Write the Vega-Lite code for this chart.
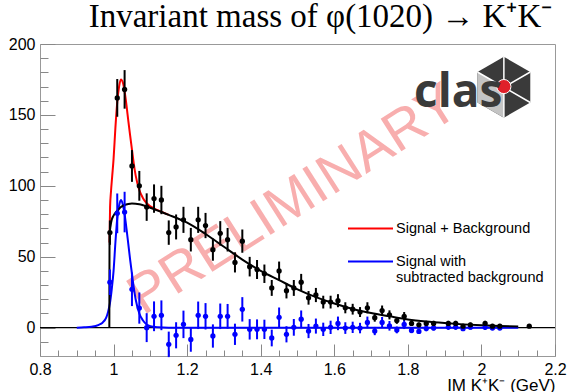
{
  "$schema": "https://vega.github.io/schema/vega-lite/v6.json",
  "width": 515,
  "height": 312,
  "autosize": {"type": "none"},
  "padding": {"left": 40, "top": 44, "right": 13, "bottom": 36},
  "background": "white",
  "title": {
    "text": "Invariant mass of φ(1020) → K⁺K⁻",
    "font": "Liberation Serif",
    "fontSize": 33,
    "fontWeight": "normal",
    "color": "black",
    "anchor": "middle",
    "frame": "group",
    "dx": 23,
    "offset": 2
  },
  "datasets": {
    "black": [
      {"x": 0.99, "n": 67, "err": 8.6}, {"x": 1.01, "n": 162, "err": 13.3}, {"x": 1.03, "n": 168, "err": 13.6},
      {"x": 1.05, "n": 114, "err": 11.2}, {"x": 1.07, "n": 100, "err": 10.5}, {"x": 1.09, "n": 85, "err": 9.7},
      {"x": 1.11, "n": 91, "err": 10}, {"x": 1.13, "n": 90, "err": 10}, {"x": 1.15, "n": 67, "err": 8.6},
      {"x": 1.17, "n": 71, "err": 8.8}, {"x": 1.19, "n": 76, "err": 9.2}, {"x": 1.21, "n": 62, "err": 8.3},
      {"x": 1.23, "n": 76, "err": 9.2}, {"x": 1.25, "n": 72, "err": 8.9}, {"x": 1.27, "n": 55, "err": 7.8},
      {"x": 1.29, "n": 66.5, "err": 8.6}, {"x": 1.31, "n": 62, "err": 8.3}, {"x": 1.33, "n": 46, "err": 7.1},
      {"x": 1.35, "n": 61, "err": 8.2}, {"x": 1.37, "n": 43, "err": 6.9}, {"x": 1.39, "n": 41, "err": 6.7},
      {"x": 1.41, "n": 38, "err": 6.5}, {"x": 1.43, "n": 28, "err": 5.6}, {"x": 1.45, "n": 40, "err": 6.6},
      {"x": 1.47, "n": 26, "err": 5.4}, {"x": 1.49, "n": 28, "err": 5.6}, {"x": 1.51, "n": 32, "err": 5.9},
      {"x": 1.53, "n": 21, "err": 4.8}, {"x": 1.55, "n": 23, "err": 5.0}, {"x": 1.57, "n": 18, "err": 4.5},
      {"x": 1.59, "n": 18, "err": 4.5}, {"x": 1.61, "n": 19, "err": 4.6}, {"x": 1.63, "n": 14, "err": 3.9},
      {"x": 1.65, "n": 13, "err": 3.8}, {"x": 1.67, "n": 11, "err": 3.5}, {"x": 1.69, "n": 14, "err": 3.9},
      {"x": 1.71, "n": 7, "err": 2.8}, {"x": 1.73, "n": 12, "err": 3.6}, {"x": 1.75, "n": 9, "err": 3.2},
      {"x": 1.77, "n": 5, "err": 2.3}, {"x": 1.79, "n": 8, "err": 3.0}, {"x": 1.81, "n": 3, "err": 1.8},
      {"x": 1.83, "n": 2, "err": 1.5}, {"x": 1.85, "n": 3, "err": 1.8}, {"x": 1.87, "n": 3, "err": 1.8},
      {"x": 1.91, "n": 3, "err": 1.8}, {"x": 1.93, "n": 3, "err": 1.8}, {"x": 1.95, "n": 1, "err": 1.0},
      {"x": 1.97, "n": 2, "err": 1.5}, {"x": 2.01, "n": 3, "err": 1.8}, {"x": 2.03, "n": 1, "err": 1.0},
      {"x": 2.05, "n": 1, "err": 1.0}, {"x": 2.13, "n": 1, "err": 1.0}
    ],
    "blue": [
      {"x": 0.99, "v": 32, "err": 9}, {"x": 1.01, "v": 80.6, "err": 14}, {"x": 1.03, "v": 81.5, "err": 14.3},
      {"x": 1.05, "v": 27, "err": 11.8}, {"x": 1.07, "v": 13.8, "err": 11}, {"x": 1.09, "v": 0, "err": 10.2},
      {"x": 1.11, "v": 8, "err": 10.5}, {"x": 1.13, "v": 8.7, "err": 10.5}, {"x": 1.15, "v": -11.8, "err": 9},
      {"x": 1.17, "v": -5.4, "err": 9.2}, {"x": 1.19, "v": 2.3, "err": 9.7}, {"x": 1.21, "v": -8.3, "err": 8.7},
      {"x": 1.23, "v": 8.7, "err": 9.7}, {"x": 1.25, "v": 8, "err": 9.3}, {"x": 1.27, "v": -5.9, "err": 8.2},
      {"x": 1.29, "v": 8, "err": 9}, {"x": 1.31, "v": 8, "err": 8.7}, {"x": 1.33, "v": -4.7, "err": 7.5},
      {"x": 1.35, "v": 12.9, "err": 8.6}, {"x": 1.37, "v": -1.2, "err": 7.2}, {"x": 1.39, "v": -1.2, "err": 7},
      {"x": 1.41, "v": -1.2, "err": 6.8}, {"x": 1.43, "v": -7.3, "err": 5.9}, {"x": 1.45, "v": 7.3, "err": 6.9},
      {"x": 1.47, "v": -4.7, "err": 5.7}, {"x": 1.49, "v": 0.2, "err": 5.9}, {"x": 1.51, "v": 5.9, "err": 6.2},
      {"x": 1.53, "v": -2.4, "err": 5}, {"x": 1.55, "v": 1.1, "err": 5.3}, {"x": 1.57, "v": -1.2, "err": 4.7},
      {"x": 1.59, "v": 0.2, "err": 4.7}, {"x": 1.61, "v": 3, "err": 4.8}, {"x": 1.63, "v": -0.3, "err": 4.1},
      {"x": 1.65, "v": 0.2, "err": 4}, {"x": 1.67, "v": -0.3, "err": 3.7}, {"x": 1.69, "v": 3.7, "err": 4.1},
      {"x": 1.71, "v": -2.4, "err": 2.9}, {"x": 1.73, "v": 3.7, "err": 3.8}, {"x": 1.75, "v": 1.3, "err": 3.4},
      {"x": 1.77, "v": -1.6, "err": 2.4}, {"x": 1.79, "v": 2.2, "err": 3.2}, {"x": 1.81, "v": -2, "err": 1.9},
      {"x": 1.83, "v": -2.7, "err": 1.6}, {"x": 1.85, "v": -0.6, "err": 1.9}, {"x": 1.87, "v": -0.2, "err": 1.9},
      {"x": 1.91, "v": 0.4, "err": 1.9}, {"x": 1.93, "v": 0.4, "err": 1.9}, {"x": 1.95, "v": -0.7, "err": 1.1},
      {"x": 1.97, "v": 0.3, "err": 1.6}, {"x": 2.01, "v": 0.3, "err": 1.9}, {"x": 2.03, "v": -0.3, "err": 1.1},
      {"x": 2.05, "v": -0.3, "err": 1.1}
    ],
    "fits": [
      {"series": "Signal with subtracted background", "x": 0.90, "y": 0},
      {"series": "Signal with subtracted background", "x": 0.92, "y": 0.2},
      {"series": "Signal with subtracted background", "x": 0.94, "y": 0.6},
      {"series": "Signal with subtracted background", "x": 0.96, "y": 2},
      {"series": "Signal with subtracted background", "x": 0.97, "y": 3.5},
      {"series": "Signal with subtracted background", "x": 0.98, "y": 7},
      {"series": "Signal with subtracted background", "x": 0.985, "y": 11},
      {"series": "Signal with subtracted background", "x": 0.99, "y": 17},
      {"series": "Signal with subtracted background", "x": 0.995, "y": 27},
      {"series": "Signal with subtracted background", "x": 1.0, "y": 40},
      {"series": "Signal with subtracted background", "x": 1.005, "y": 60},
      {"series": "Signal with subtracted background", "x": 1.01, "y": 77},
      {"series": "Signal with subtracted background", "x": 1.015, "y": 86},
      {"series": "Signal with subtracted background", "x": 1.02, "y": 90},
      {"series": "Signal with subtracted background", "x": 1.025, "y": 87},
      {"series": "Signal with subtracted background", "x": 1.03, "y": 80},
      {"series": "Signal with subtracted background", "x": 1.035, "y": 70},
      {"series": "Signal with subtracted background", "x": 1.04, "y": 59},
      {"series": "Signal with subtracted background", "x": 1.045, "y": 48},
      {"series": "Signal with subtracted background", "x": 1.05, "y": 38},
      {"series": "Signal with subtracted background", "x": 1.055, "y": 28},
      {"series": "Signal with subtracted background", "x": 1.06, "y": 20},
      {"series": "Signal with subtracted background", "x": 1.07, "y": 10},
      {"series": "Signal with subtracted background", "x": 1.08, "y": 5},
      {"series": "Signal with subtracted background", "x": 1.09, "y": 2.2},
      {"series": "Signal with subtracted background", "x": 1.10, "y": 1},
      {"series": "Signal with subtracted background", "x": 1.12, "y": 0.3},
      {"series": "Signal with subtracted background", "x": 1.15, "y": 0},
      {"series": "Signal with subtracted background", "x": 2.10, "y": 0},
      {"series": "Signal + Background", "x": 0.989, "y": 60},
      {"series": "Signal + Background", "x": 0.9905, "y": 85},
      {"series": "Signal + Background", "x": 0.993, "y": 96},
      {"series": "Signal + Background", "x": 0.996, "y": 106},
      {"series": "Signal + Background", "x": 1.0, "y": 119},
      {"series": "Signal + Background", "x": 1.005, "y": 141},
      {"series": "Signal + Background", "x": 1.01, "y": 159},
      {"series": "Signal + Background", "x": 1.015, "y": 170},
      {"series": "Signal + Background", "x": 1.02, "y": 175},
      {"series": "Signal + Background", "x": 1.025, "y": 173},
      {"series": "Signal + Background", "x": 1.03, "y": 166.5},
      {"series": "Signal + Background", "x": 1.035, "y": 157},
      {"series": "Signal + Background", "x": 1.04, "y": 146},
      {"series": "Signal + Background", "x": 1.045, "y": 135.5},
      {"series": "Signal + Background", "x": 1.05, "y": 125.5},
      {"series": "Signal + Background", "x": 1.055, "y": 115.5},
      {"series": "Signal + Background", "x": 1.06, "y": 107.4},
      {"series": "Signal + Background", "x": 1.07, "y": 97},
      {"series": "Signal + Background", "x": 1.08, "y": 91.3},
      {"series": "Signal + Background", "x": 1.09, "y": 87.7},
      {"series": "Signal + Background", "x": 1.10, "y": 85.5},
      {"series": "Signal + Background", "x": 1.12, "y": 82.8},
      {"series": "Signal + Background", "x": 1.15, "y": 79.5}
    ],
    "bg": [
      {"x": 0.9885, "y": 0}, {"x": 0.989, "y": 65}, {"x": 0.992, "y": 72}, {"x": 0.995, "y": 76},
      {"x": 1.0, "y": 79}, {"x": 1.005, "y": 81}, {"x": 1.01, "y": 82.5}, {"x": 1.015, "y": 83.8},
      {"x": 1.02, "y": 85}, {"x": 1.03, "y": 86.5}, {"x": 1.04, "y": 87.2}, {"x": 1.05, "y": 87.5},
      {"x": 1.06, "y": 87.4}, {"x": 1.07, "y": 87}, {"x": 1.08, "y": 86.3}, {"x": 1.09, "y": 85.5},
      {"x": 1.10, "y": 84.5}, {"x": 1.12, "y": 82.5}, {"x": 1.15, "y": 79.5}, {"x": 1.2, "y": 74},
      {"x": 1.25, "y": 66}, {"x": 1.3, "y": 57}, {"x": 1.35, "y": 48}, {"x": 1.4, "y": 40},
      {"x": 1.45, "y": 33.5}, {"x": 1.5, "y": 27}, {"x": 1.55, "y": 21.5}, {"x": 1.6, "y": 17},
      {"x": 1.65, "y": 13.2}, {"x": 1.7, "y": 10.3}, {"x": 1.75, "y": 8}, {"x": 1.8, "y": 5.8},
      {"x": 1.85, "y": 4.3}, {"x": 1.9, "y": 3.2}, {"x": 1.95, "y": 2.3}, {"x": 2.0, "y": 1.6},
      {"x": 2.05, "y": 1.1}, {"x": 2.1, "y": 0.8}
    ]
  },
  "resolve": {"axis": {"x": "independent", "y": "independent"}},
  "layer": [
    {
      "data": {"values": [{}]},
      "mark": {"type": "text", "text": "PRELIMINARY", "angle": -32.5, "fontSize": 56, "font": "Liberation Sans", "color": "#f79a9a", "opacity": 0.8, "align": "center", "baseline": "middle"},
      "encoding": {
        "x": {"datum": 1.489, "type": "quantitative", "scale": {"domain": [0.8, 2.2], "nice": false, "zero": false}, "axis": null},
        "y": {"datum": 90, "type": "quantitative", "scale": {"domain": [-20, 200], "nice": false, "zero": false}, "axis": null}
      }
    },
    {
      "data": {"values": [{}]},
      "mark": {"type": "rule", "color": "black", "strokeWidth": 1.2},
      "encoding": {
        "y": {"datum": 0, "type": "quantitative", "scale": {"domain": [-20, 200], "nice": false, "zero": false}, "axis": null}
      }
    },
    {
      "data": {"name": "fits"},
      "mark": {"type": "line", "strokeWidth": 2, "interpolate": "monotone"},
      "encoding": {
        "x": {"field": "x", "type": "quantitative", "scale": {"domain": [0.8, 2.2], "nice": false, "zero": false}, "axis": null},
        "y": {"field": "y", "type": "quantitative", "scale": {"domain": [-20, 200], "nice": false, "zero": false}, "axis": null},
        "color": {
          "field": "series", "type": "nominal",
          "scale": {"domain": ["Signal + Background", "Signal with subtracted background"], "range": ["#ff0000", "#0000ff"]},
          "legend": {
            "orient": "none", "legendX": 307, "legendY": 161, "title": null, "padding": 0,
            "symbolType": "stroke", "symbolSize": 2025, "symbolStrokeWidth": 2,
            "labelFont": "Liberation Sans", "labelFontSize": 14.5, "labelColor": "black", "labelOffset": 2, "labelLimit": 0,
            "rowPadding": 3,
            "labelExpr": "datum.label == 'Signal with subtracted background' ? ['Signal with', 'subtracted background'] : datum.label"
          }
        }
      }
    },
    {
      "data": {"name": "bg"},
      "mark": {"type": "line", "strokeWidth": 2, "color": "black", "interpolate": "monotone"},
      "encoding": {
        "x": {"field": "x", "type": "quantitative", "scale": {"domain": [0.8, 2.2], "nice": false, "zero": false}, "axis": null},
        "y": {"field": "y", "type": "quantitative", "scale": {"domain": [-20, 200], "nice": false, "zero": false}, "axis": null}
      }
    },
    {
      "data": {"name": "blue"},
      "mark": {"type": "errorbar", "color": "#0000ff", "thickness": 2},
      "encoding": {
        "x": {"field": "x", "type": "quantitative", "scale": {"domain": [0.8, 2.2], "nice": false, "zero": false}, "axis": null},
        "y": {"field": "v", "type": "quantitative", "scale": {"domain": [-20, 200], "nice": false, "zero": false}, "axis": null},
        "yError": {"field": "err"}
      }
    },
    {
      "data": {"name": "blue"},
      "mark": {"type": "point", "filled": true, "shape": "circle", "size": 28, "color": "#0000ff", "opacity": 1},
      "encoding": {
        "x": {"field": "x", "type": "quantitative", "scale": {"domain": [0.8, 2.2], "nice": false, "zero": false},
          "axis": {"orient": "bottom", "values": [0.85, 0.9, 0.95, 1.05, 1.1, 1.15, 1.25, 1.3, 1.35, 1.45, 1.5, 1.55, 1.65, 1.7, 1.75, 1.85, 1.9, 1.95, 2.05, 2.1, 2.15],
            "labels": false, "domain": false, "grid": false, "tickSize": -6, "tickColor": "#888", "tickWidth": 1, "title": null}},
        "y": {"field": "v", "type": "quantitative", "scale": {"domain": [-20, 200], "nice": false, "zero": false},
          "axis": {"orient": "left", "values": [-10, 10, 20, 30, 40, 60, 70, 80, 90, 110, 120, 130, 140, 160, 170, 180, 190],
            "labels": false, "domain": false, "grid": false, "tickSize": -8, "tickColor": "#888", "tickWidth": 1, "title": null}}
      }
    },
    {
      "data": {"name": "black"},
      "mark": {"type": "errorbar", "color": "black", "thickness": 2},
      "encoding": {
        "x": {"field": "x", "type": "quantitative", "scale": {"domain": [0.8, 2.2], "nice": false, "zero": false}, "axis": null},
        "y": {"field": "n", "type": "quantitative", "scale": {"domain": [-20, 200], "nice": false, "zero": false}, "axis": null},
        "yError": {"field": "err"}
      }
    },
    {
      "data": {"name": "black"},
      "mark": {"type": "point", "filled": true, "shape": "circle", "size": 28, "color": "black", "opacity": 1},
      "encoding": {
        "x": {"field": "x", "type": "quantitative", "scale": {"domain": [0.8, 2.2], "nice": false, "zero": false},
          "axis": {"orient": "bottom", "values": [0.8, 1.0, 1.2, 1.4, 1.6, 1.8, 2.0, 2.2], "format": "~g",
            "domain": false, "grid": false, "tickSize": -12, "tickColor": "#888", "tickWidth": 1,
            "labelFont": "Liberation Sans", "labelFontSize": 16, "labelColor": "black", "labelPadding": 17,
            "labelFlush": false, "labelOverlap": false,
            "title": "IM K⁺K⁻ (GeV)", "titleFont": "Liberation Sans", "titleFontSize": 17, "titleFontWeight": "normal",
            "titleColor": "black", "titleAnchor": "end", "titleAlign": "right", "titleBaseline": "alphabetic",
            "titleX": 515, "titleY": 34}},
        "y": {"field": "n", "type": "quantitative", "scale": {"domain": [-20, 200], "nice": false, "zero": false},
          "axis": {"orient": "left", "values": [0, 50, 100, 150, 200], "domain": false, "grid": false, "tickSize": -15, "tickColor": "#888", "tickWidth": 1,
            "labelFont": "Liberation Sans", "labelFontSize": 16, "labelColor": "black", "labelPadding": 20,
            "labelFlush": false, "labelOverlap": false, "title": null}}
      }
    },
    {
      "data": {"values": [{}]},
      "mark": {"type": "point", "filled": true, "shape": "M0,-1 L0.866,-0.5 L0.866,0.5 L0,1 L-0.866,0.5 L-0.866,-0.5 Z", "size": 3721, "color": "#3a3a3a", "opacity": 1},
      "encoding": {
        "x": {"datum": 2.061, "type": "quantitative", "scale": {"domain": [0.8, 2.2], "nice": false, "zero": false}, "axis": null},
        "y": {"datum": 169.5, "type": "quantitative", "scale": {"domain": [-20, 200], "nice": false, "zero": false}, "axis": null}
      }
    },
    {
      "data": {"values": [{}]},
      "mark": {"type": "point", "filled": true, "shape": "M0,0 L0,1 L-0.866,0.5 L-0.866,-0.5 Z", "size": 3721, "color": "#c4c4c4", "opacity": 1},
      "encoding": {
        "x": {"datum": 2.061, "type": "quantitative", "scale": {"domain": [0.8, 2.2], "nice": false, "zero": false}, "axis": null},
        "y": {"datum": 169.5, "type": "quantitative", "scale": {"domain": [-20, 200], "nice": false, "zero": false}, "axis": null}
      }
    },
    {
      "data": {"values": [{}]},
      "mark": {"type": "point", "filled": false, "shape": "M0,0 L0,-1 M0,0 L0.866,-0.5 M0,0 L0.866,0.5 M0,0 L0,1 M0,0 L-0.866,-0.5", "size": 3721, "color": "white", "strokeWidth": 1.5, "opacity": 1},
      "encoding": {
        "x": {"datum": 2.061, "type": "quantitative", "scale": {"domain": [0.8, 2.2], "nice": false, "zero": false}, "axis": null},
        "y": {"datum": 169.5, "type": "quantitative", "scale": {"domain": [-20, 200], "nice": false, "zero": false}, "axis": null}
      }
    },
    {
      "data": {"values": [{}]},
      "mark": {"type": "point", "filled": true, "shape": "circle", "size": 200, "color": "#e0202a", "stroke": "white", "strokeWidth": 1, "opacity": 1},
      "encoding": {
        "x": {"datum": 2.061, "type": "quantitative", "scale": {"domain": [0.8, 2.2], "nice": false, "zero": false}, "axis": null},
        "y": {"datum": 170, "type": "quantitative", "scale": {"domain": [-20, 200], "nice": false, "zero": false}, "axis": null}
      }
    },
    {
      "data": {"values": [{}]},
      "mark": {"type": "text", "text": "clas", "font": "Open Sans", "fontSize": 46, "fontWeight": "bold", "color": "#3a3a3a", "align": "center", "baseline": "alphabetic"},
      "encoding": {
        "x": {"datum": 1.937, "type": "quantitative", "scale": {"domain": [0.8, 2.2], "nice": false, "zero": false}, "axis": null},
        "y": {"datum": 155.6, "type": "quantitative", "scale": {"domain": [-20, 200], "nice": false, "zero": false}, "axis": null}
      }
    }
  ],
  "config": {
    "view": {"stroke": "#999", "strokeWidth": 1},
    "axis": {"grid": false}
  }
}
